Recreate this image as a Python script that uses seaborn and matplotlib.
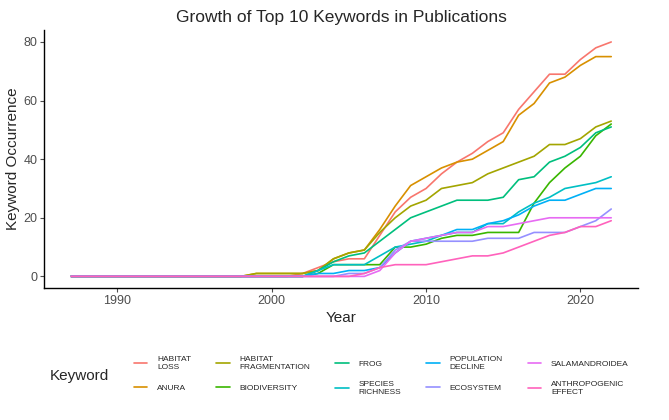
import numpy as np
import pandas as pd
import matplotlib
matplotlib.use('Agg')
import matplotlib.pyplot as plt
import seaborn as sns

years = list(range(1987, 2023))

def pad(tail):
    # tail covers the latest years; earlier years are zero
    return [0] * (len(years) - len(tail)) + tail

keywords = ["HABITAT\nLOSS", "ANURA", "HABITAT\nFRAGMENTATION", "BIODIVERSITY", "FROG",
            "SPECIES\nRICHNESS", "POPULATION\nDECLINE", "ECOSYSTEM", "SALAMANDROIDEA",
            "ANTHROPOGENIC\nEFFECT"]

# values for 1999..2022
habitat_loss = pad([0, 0, 0, 1, 3, 5, 6, 6, 14, 22, 27, 30, 35, 39, 42, 46, 49, 57, 63, 69, 69, 74, 78, 80])
anura = pad([1, 1, 1, 1, 2, 6, 8, 9, 16, 24, 31, 34, 37, 39, 40, 43, 46, 55, 59, 66, 68, 72, 75, 75])
habitat_frag = pad([1, 1, 1, 1, 2, 6, 8, 9, 15, 20, 24, 26, 30, 31, 32, 35, 37, 39, 41, 45, 45, 47, 51, 53])
biodiversity = pad([0, 0, 0, 0, 1, 4, 4, 4, 4, 10, 10, 11, 13, 14, 14, 15, 15, 15, 25, 32, 37, 41, 48, 52])
frog = pad([0, 0, 0, 0, 2, 5, 7, 8, 12, 16, 20, 22, 24, 26, 26, 26, 27, 33, 34, 39, 41, 44, 49, 51])
species_richness = pad([0, 0, 0, 0, 2, 4, 4, 4, 7, 10, 11, 12, 14, 15, 15, 18, 18, 22, 25, 27, 30, 31, 32, 34])
population_decline = pad([0, 0, 0, 0, 1, 1, 2, 2, 3, 8, 12, 13, 14, 16, 16, 18, 19, 21, 24, 26, 26, 28, 30, 30])
ecosystem = pad([0, 0, 0, 0, 0, 0, 1, 1, 3, 9, 12, 12, 12, 12, 12, 13, 13, 13, 15, 15, 15, 17, 19, 23])
salamandroidea = pad([0, 0, 0, 0, 0, 0, 0, 0, 2, 8, 12, 13, 14, 15, 15, 17, 17, 18, 19, 20, 20, 20, 20, 20])
anthropogenic = pad([0, 0, 0, 0, 0, 0, 0, 1, 3, 4, 4, 4, 5, 6, 7, 7, 8, 10, 12, 14, 15, 17, 17, 19])

series = [habitat_loss, anura, habitat_frag, biodiversity, frog, species_richness,
          population_decline, ecosystem, salamandroidea, anthropogenic]

df = pd.DataFrame({
    "Year": years * len(keywords),
    "Occurrence": [v for s in series for v in s],
    "Keyword": [k for k in keywords for _ in years],
})

colors = ["#F8766D", "#D89000", "#A3A500", "#39B600", "#00BF7D",
          "#00BFC4", "#00B0F6", "#9590FF", "#E76BF3", "#FF62BC"]

sns.set_style("white")
plt.rcParams['font.family'] = ['Liberation Sans', 'DejaVu Sans']

fig = plt.figure(figsize=(6.69, 4.2), dpi=100)
ax = fig.add_axes([0.066, 0.314, 0.888, 0.614])
sns.lineplot(data=df, x="Year", y="Occurrence", hue="Keyword", palette=colors,
             linewidth=1.2, ax=ax, legend=True)

ax.set_title("Growth of Top 10 Keywords in Publications", fontsize=12.5)
ax.set_xlabel("Year", fontsize=11, labelpad=3)
ax.set_ylabel("Keyword Occurrence", fontsize=11, labelpad=2)
ax.set_xticks([1990, 2000, 2010, 2020])
ax.set_yticks([0, 20, 40, 60, 80])
ax.tick_params(labelsize=9, colors="#4d4d4d", length=3, pad=2, left=True, bottom=True)
for side in ["top", "right"]:
    ax.spines[side].set_visible(False)
for side in ["left", "bottom"]:
    ax.spines[side].set_color("black")
    ax.spines[side].set_linewidth(1)

handles, labels = ax.get_legend_handles_labels()
ax.get_legend().remove()
fig.legend(handles, labels, ncol=5, loc="center", bbox_to_anchor=(0.57, 0.105),
           frameon=False, fontsize=6, handlelength=1.6, columnspacing=3.0,
           labelspacing=1.6, handletextpad=1.2)
fig.text(0.075, 0.105, "Keyword", fontsize=11, va="center")

fig.savefig("out.png", dpi=100)
